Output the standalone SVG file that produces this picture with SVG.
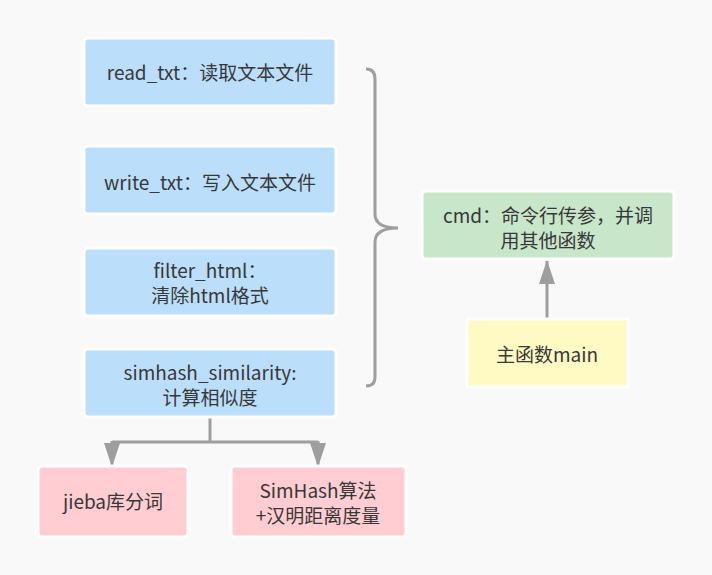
<svg xmlns="http://www.w3.org/2000/svg" width="712" height="575" viewBox="0 0 712 575">
<style>
.bg{fill:#f9f9f9}
.n{stroke:#ffffff;stroke-width:3}
.blue{fill:#bbdefb}
.green{fill:#c8e6c9}
.yellow{fill:#fff9c4}
.pink{fill:#ffcdd2}
text{font-family:"Microsoft YaHei","Noto Sans CJK SC","Noto Sans",sans-serif;font-size:19px;fill:#383838;text-anchor:middle}
.c{fill:none;stroke:#9e9e9e;stroke-width:3}
</style>
<defs>
<marker id="ah" viewBox="0 0 24 16" refX="23" refY="8" markerWidth="8" markerHeight="5.33" orient="auto" markerUnits="strokeWidth">
<path d="M0,0 L24,8 L0,16 Z" fill="#9e9e9e"/>
</marker>
</defs>
<rect class="bg" width="712" height="575"/>
<g id="connectors">
<path class="c" d="M366,69 Q375,69 375,79 L375,214 Q375,228 398,228 Q375,228 375,242 L375,377 Q375,386 366,386"/>
<path class="c" d="M547,318 L547,261" marker-end="url(#ah)"/>
<path class="c" d="M210,417 L210,442 M112,442 L318,442"/>
<path class="c" d="M112,441 L112,466" marker-end="url(#ah)"/>
<path class="c" d="M318,441 L318,466" marker-end="url(#ah)"/>
</g>
<g id="read_txt">
<rect class="n blue" x="84" y="38" width="252" height="68" rx="4"/>
<text x="210" y="80">read_txt：读取文本文件</text>
</g>
<g id="write_txt">
<rect class="n blue" x="84" y="146" width="252" height="68" rx="4"/>
<text x="210" y="190">write_txt：写入文本文件</text>
</g>
<g id="filter_html">
<rect class="n blue" x="84" y="248" width="252" height="68" rx="4"/>
<text x="210" y="278">filter_html：</text>
<text x="210" y="303">清除html格式</text>
</g>
<g id="simhash_similarity">
<rect class="n blue" x="84" y="349" width="252" height="68" rx="4"/>
<text x="210" y="380">simhash_similarity:</text>
<text x="210" y="405">计算相似度</text>
</g>
<g id="jieba">
<rect class="n pink" x="38" y="466" width="150" height="71" rx="4"/>
<text x="113" y="509">jieba库分词</text>
</g>
<g id="simhash">
<rect class="n pink" x="231" y="466" width="175" height="71" rx="4"/>
<text x="318" y="498">SimHash算法</text>
<text x="318" y="523">+汉明距离度量</text>
</g>
<g id="cmd">
<rect class="n green" x="422" y="191" width="252" height="68" rx="4"/>
<text x="548" y="223">cmd：命令行传参，并调</text>
<text x="548" y="248">用其他函数</text>
</g>
<g id="main">
<rect class="n yellow" x="467" y="319" width="161" height="68"/>
<text x="547" y="362">主函数main</text>
</g>
</svg>
